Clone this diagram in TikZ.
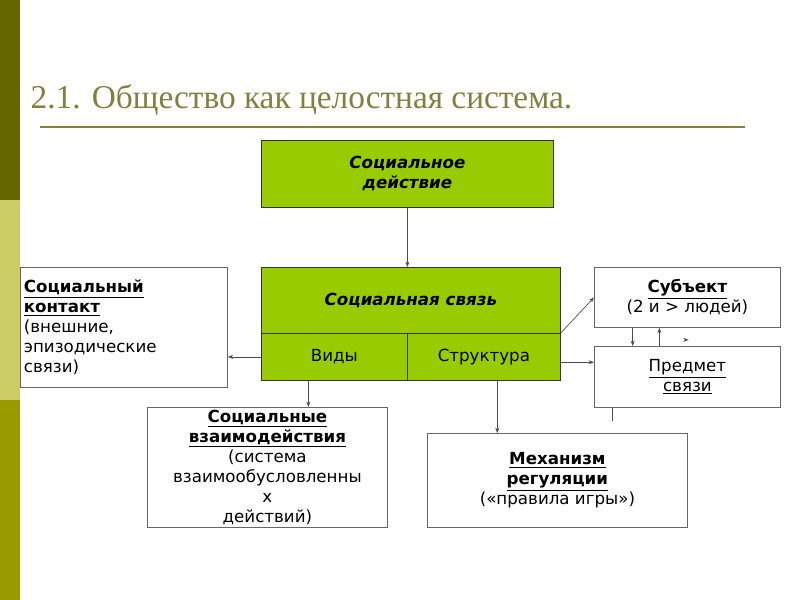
\documentclass[tikz,border=0pt]{standalone}
\usepackage{fontspec}
\setmainfont{DejaVu Sans}
\newfontfamily\titlefont{Liberation Serif}
\usepackage{tikz}
\usetikzlibrary{arrows.meta}
\definecolor{darkolive}{RGB}{102,102,0}
\definecolor{paleolive}{RGB}{204,204,102}
\definecolor{midolive}{RGB}{153,153,0}
\definecolor{leafgreen}{RGB}{153,204,0}
\definecolor{titleolive}{RGB}{128,128,64}
\tikzset{
  box/.style={draw=black!60, line width=0.6pt, anchor=north west, inner sep=2pt, align=center, font=\fontsize{12.5}{15}\selectfont},
  greenbox/.style={box, fill=leafgreen, draw=black!80},
  link/.style={draw=black!70, line width=0.5pt, -{Stealth[length=4pt,width=3pt]}}
}
\newcommand{\hd}[1]{\underline{\textbf{#1}}}
\begin{document}
\begin{tikzpicture}[x=0.75pt,y=-0.75pt]
\useasboundingbox (0,0) rectangle (800,600);
% left stripe
\fill[darkolive] (0,0) rectangle (20,200);
\fill[paleolive] (0,200) rectangle (20,400);
\fill[midolive] (0,400) rectangle (20,600);
% title
\node[anchor=west, text=titleolive, font=\titlefont\fontsize{25}{30}\selectfont] (title) at (26,100) {2.1. Общество как целостная система.};
\draw[titleolive, line width=1.2pt] (40,127) -- (745,127);
% green boxes
\node[greenbox, minimum width=292*0.75pt, minimum height=67*0.75pt] (act) at (261,140) {\textbf{\textit{Социальное}}\\\textbf{\textit{действие}}};
\node[greenbox, minimum width=299*0.75pt, minimum height=66*0.75pt] (link) at (261,267) {\textbf{\textit{Социальная связь}}};
\node[greenbox, minimum width=146*0.75pt, minimum height=47*0.75pt] (kinds) at (261,333) {Виды};
\node[greenbox, minimum width=153*0.75pt, minimum height=47*0.75pt] (struct) at (407,333) {Структура};
% white boxes
\node[box, minimum width=207*0.75pt, minimum height=120*0.75pt, align=left, text width=200*0.75pt] (contact) at (20,267) {\hd{Социальный}\\\hd{контакт}\\(внешние,\\эпизодические\\связи)};
\node[box, minimum width=186*0.75pt, minimum height=60*0.75pt] (subj) at (594,267) {\hd{Субъект}\\(2 и > людей)};
\node[box, minimum width=186*0.75pt, minimum height=61*0.75pt] (obj) at (594,346) {\underline{Предмет}\\\underline{связи}};
\node[box, minimum width=240*0.75pt, minimum height=120*0.75pt, inner sep=1pt] (inter) at (147,407) {\hd{Социальные}\\\hd{взаимодействия}\\(система\\взаимообусловленны\\х\\действий)};
\node[box, minimum width=260*0.75pt, minimum height=94*0.75pt] (mech) at (427,433) {\hd{Механизм}\\\hd{регуляции}\\(«правила игры»)};
% connectors
\draw[link] (act.south) -- (act.south |- link.north);
\draw[link] (kinds.west) -- (contact.east |- kinds.west);
\draw[link] ([xshift=-19.5pt]kinds.south) -- ([xshift=-19.5pt]kinds.south |- inter.north);
\draw[link] ([xshift=10pt]struct.south) -- ([xshift=10pt]struct.south |- mech.north);
\draw[link] (struct.north east) -- (subj.west);
\draw[link] ([yshift=-4pt]struct.east) -- ([yshift=-4pt]struct.east -| obj.west);
\draw[link] ([xshift=29pt]subj.south west) -- ([xshift=29pt]obj.north west);
\draw[link] ([xshift=49pt]obj.north west) -- ([xshift=49pt]subj.south west);
\draw[link] ([xshift=69pt,yshift=-9pt]subj.south west) -- ([xshift=71pt,yshift=-9pt]subj.south west);
\draw[black!70, line width=0.5pt] ([xshift=14pt]obj.south west) -- ++(0,-10pt);
\end{tikzpicture}
\end{document}
